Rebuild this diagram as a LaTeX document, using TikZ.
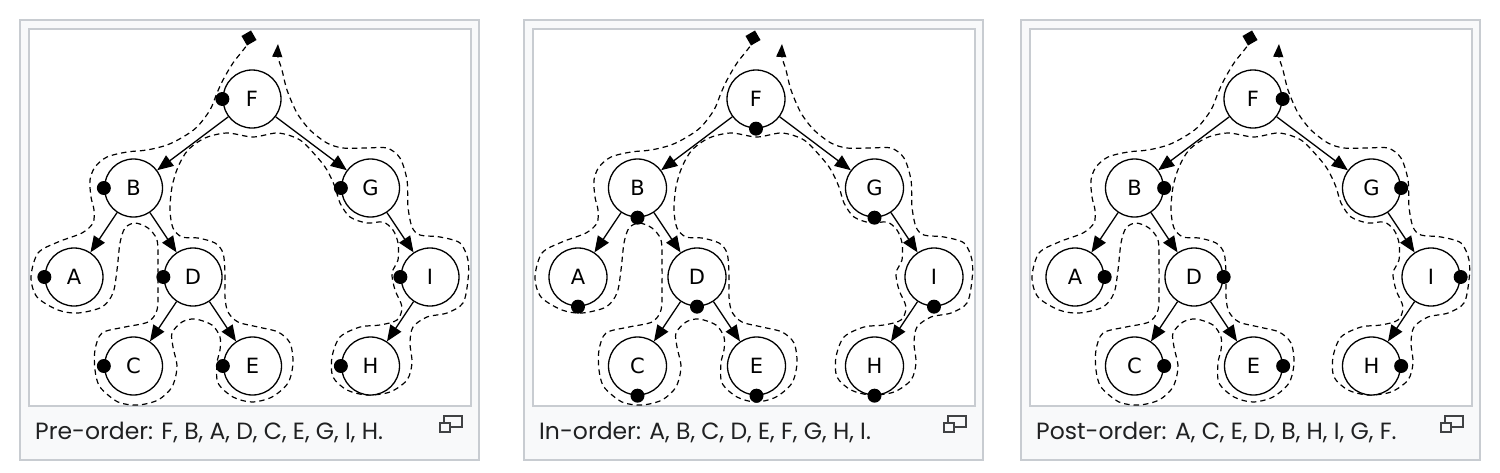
\documentclass[tikz,border=0pt]{standalone}
\usepackage{fontspec}
\newfontfamily\vertexfont{DejaVu Sans}
\newfontfamily\captionfont{Poppins}
\usetikzlibrary{trees,arrows.meta,positioning,calc}
\definecolor{frameGray}{HTML}{C8CCD1}
\definecolor{boxGray}{HTML}{F8F9FA}
\definecolor{captionText}{HTML}{202122}
\definecolor{iconGray}{HTML}{404244}
\tikzstyle{treeVertex}=[draw,fill=white,circle,minimum size=58pt,inner sep=0pt,line width=1.3pt,font=\vertexfont\fontsize{21}{25}\selectfont]
\tikzstyle{visitDot}=[fill=black,circle,minimum size=14pt,inner sep=0pt]
\tikzstyle{tourLine}=[line width=1.2pt,dash pattern=on 5.5pt off 4pt]
\newcommand{\drawTour}{%
  \draw[tourLine,-{Triangle[length=13pt,width=10pt]}] plot[smooth,tension=0.5] coordinates {
    (249,38) (247,45) (233,63) (223,80) (217,93) (210,110) (197,127) (183,137)
    (167,145) (147,150) (127,152) (107,157) (95,167) (90,180) (91,197) (94,210)
    (93,223) (82,233) (58,242) (38,253) (31,277) (37,297) (58,310) (78,313)
    (102,307) (113,293) (117,270) (120,243) (125,228) (135,223) (148,228) (157,240)
    (158,263) (158,287) (157,310) (148,322) (125,327) (102,333) (95,350) (95,370)
    (100,387) (118,402) (138,405) (158,400) (172,387) (177,367) (173,347) (172,333)
    (182,322) (195,319) (212,325) (220,337) (220,350) (217,363) (218,383) (233,397)
    (252,402) (272,397) (288,383) (293,363) (290,343) (278,332) (258,327) (238,322)
    (228,312) (225,297) (225,273) (223,253) (215,243) (198,238) (182,237) (173,228)
    (170,210) (172,187) (178,167) (188,150) (205,138) (227,133) (253,137) (278,133)
    (300,140) (317,157) (327,170) (335,187) (340,203) (350,217) (367,223) (383,222)
    (393,230) (398,243) (398,260) (392,273) (395,290) (402,307) (397,320) (380,325)
    (360,327) (340,337) (332,357) (333,377) (347,390) (367,395) (390,392) (407,380)
    (412,363) (410,343) (413,327) (427,317) (447,313) (463,303) (468,280) (468,260)
    (460,243) (440,237) (420,235) (412,227) (408,207) (407,180) (400,158) (387,148)
    (367,148) (343,148) (327,143) (310,130) (297,113) (287,90) (282,70) (278,57)
    (278,44)};}

\begin{document}
\begin{tikzpicture}[x=1pt,y=-1pt,level distance=89pt,
    level 1/.style={sibling distance=237pt},
    level 2/.style={sibling distance=119pt},
    level 3/.style={sibling distance=119pt},
    edge from parent/.style={draw,line width=1.3pt,-{Triangle[length=16pt,width=13pt]}}]
  \useasboundingbox (0,0) rectangle (1500,472);
  \foreach \dx/\side/\orderText in {0/west/{Pre-order: F, B, A, D, C, E, G, I, H.},
      504/south/{In-order: A, B, C, D, E, F, G, H, I.},
      1001/east/{Post-order: A, C, E, D, B, H, I, G, F.}} {
    \begin{scope}[shift={(\dx,0)}]
      % frames
      \draw[frameGray,fill=boxGray,line width=1.6pt] (20,20) rectangle (479,460);
      \draw[frameGray,fill=white,line width=1.6pt] (29,29) rectangle (471,406);
      % walk round the tree
      \drawTour
      \node[fill=black,minimum size=11pt,inner sep=0pt,rotate=30] (start) at (249,38) {};
      % tree
      \node [treeVertex] (F) at (252,99) {F}
        child {
          node [treeVertex] (B) {B}
          child {
            node [treeVertex] (A) {A}
          }
          child {
            node [treeVertex] (D) {D}
            child {
              node [treeVertex] (C) {C}
            }
            child {
              node [treeVertex] (E) {E}
            }
          }
        }
        child {
          node [treeVertex] (G) {G}
          child [missing]
          child {
            node [treeVertex] (I) {I}
            child {
              node [treeVertex] (H) {H}
            }
            child [missing]
          }
        };
      \foreach \v in {F,B,G,A,D,I,C,E,H}
        \node [visitDot] at (\v.\side) {};
      % caption
      \node[anchor=base west,inner sep=0pt,text=captionText,font=\captionfont\fontsize{23.5}{28}\selectfont] (label) at (35,439) {\orderText};
      \draw[iconGray,line width=1.3pt] (444,416) rectangle (462,427);
      \draw[iconGray,line width=1.3pt,fill=boxGray] (440,423) rectangle (450,432);
    \end{scope}
  }
\end{tikzpicture}
\end{document}
